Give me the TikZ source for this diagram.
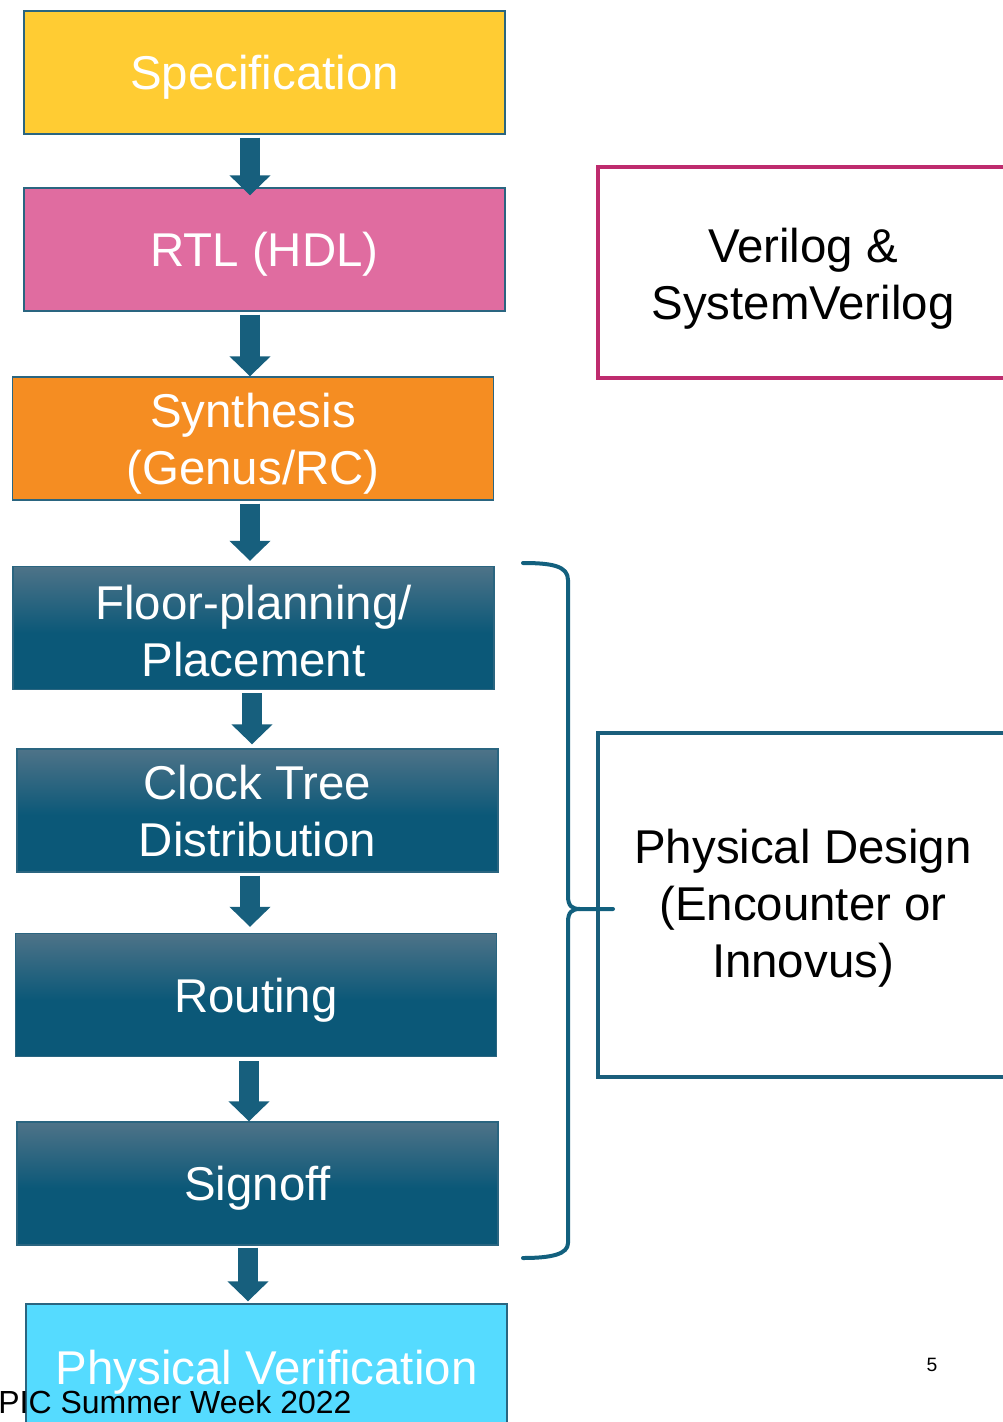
\documentclass[tikz,border=0pt]{standalone}
\usepackage{fontspec}
\setmainfont{Liberation Sans}
\usetikzlibrary{arrows.meta,calc}

\definecolor{specyellow}{HTML}{FFCC33}
\definecolor{rtlpink}{HTML}{E06CA0}
\definecolor{synthorange}{HTML}{F58D22}
\definecolor{verifcyan}{HTML}{55DBFF}
\definecolor{tealtop}{HTML}{4E7388}
\definecolor{tealbot}{HTML}{0B5878}
\definecolor{boxedge}{HTML}{2A6580}
\definecolor{arrowteal}{HTML}{175F7D}
\definecolor{braceteal}{HTML}{12607E}
\definecolor{verilogedge}{HTML}{BE2B6E}
\definecolor{pdedge}{HTML}{1A5E7B}

\pgfdeclareverticalshading{tealfade}{100bp}{color(0bp)=(tealbot); color(48bp)=(tealbot); color(75bp)=(tealtop); color(100bp)=(tealtop)}

\begin{document}
\begin{tikzpicture}[x=0.02cm,y=-0.02cm]
\tikzset{
  flowbox/.style={rectangle,draw=boxedge,line width=0.8pt,minimum width=9.62cm,minimum height=2.46cm,inner sep=0pt,align=center,text=white,font=\fontsize{27}{32.3}\selectfont,text height=25.4pt},
  tealbox/.style={flowbox,shade,shading=tealfade},
  twolines/.style={text height=57.8pt},
  sidebox/.style={rectangle,line width=1.8pt,minimum width=8.2cm,align=center,font=\fontsize{27}{32.5}\selectfont},
  flowarrow/.style={draw=arrowteal,line width=0.4cm,-{Triangle[width=0.8cm,length=0.4cm]}},
  bracket/.style={draw=braceteal,line width=0.08cm,line cap=round,line join=round}
}
\useasboundingbox (0,0) rectangle (1002,1422);
\node[flowbox,fill=specyellow] (spec) at (264.5,72.5) {Specification};
\node[flowbox,fill=rtlpink] (rtl) at (264.5,249.5) {RTL (HDL)};
\node[flowbox,twolines,fill=synthorange] (synth) at (253,438.5) {Synthesis\\(Genus/RC)};
\node[tealbox,twolines,text height=55pt] (floor) at (253.5,628) {Floor-planning/\\Placement};
\node[tealbox,twolines,text height=52.3pt] (clock) at (257.5,810.5) {Clock Tree\\Distribution};
\node[tealbox] (routing) at (256,995) {Routing};
\node[tealbox] (signoff) at (257.5,1183.5) {Signoff};
\node[flowbox,fill=verifcyan,text height=27pt] (verif) at (266.5,1365.5) {Physical Verification};
\node[sidebox,draw=verilogedge,minimum height=4.22cm,text height=59pt] (hdl) at (803,272.5) {Verilog \&\\SystemVerilog};
\node[sidebox,draw=pdedge,minimum height=6.88cm,text height=88.5pt] (pd) at (803,905) {Physical Design\\(Encounter or\\Innovus)};
\draw[flowarrow] ($(spec.south)+(-14.5,3)$) -- ($(rtl.north)+(-14.5,8)$);
\draw[flowarrow] ($(rtl.south)+(-14.5,3)$) -- ($(synth.north)+(-3,0)$);
\draw[flowarrow] ($(synth.south)+(-3,3)$) -- ($(floor.north)+(-3.5,-5)$);
\draw[flowarrow] ($(floor.south)+(-1.5,3)$) -- ($(clock.north)+(-5.5,-4)$);
\draw[flowarrow] ($(clock.south)+(-7.5,3)$) -- ($(routing.north)+(-6,-6)$);
\draw[flowarrow] ($(routing.south)+(-7,4)$) -- ($(signoff.north)+(-8.5,0)$);
\draw[flowarrow] ($(signoff.south)+(-9.5,2)$) -- ($(verif.north)+(-18.5,-2)$);
\draw[bracket] (523,563) .. controls (552,563) and (568,566) .. (568,580) -- (568,896)
  .. controls (568,906) and (572,909) .. (580,909) -- (613,909);
\draw[bracket] (580,909) .. controls (572,909) and (568,912) .. (568,922) -- (568,1243)
  .. controls (568,1254) and (552,1258) .. (523,1258);
\node[anchor=base west,inner sep=0pt,font=\fontsize{18.2}{21}\selectfont] (footer) at (-2,1413) {PIC Summer Week 2022};
\node[font=\fontsize{11}{13}\selectfont] (pagenum) at (932,1365) {5};
\end{tikzpicture}
\end{document}
